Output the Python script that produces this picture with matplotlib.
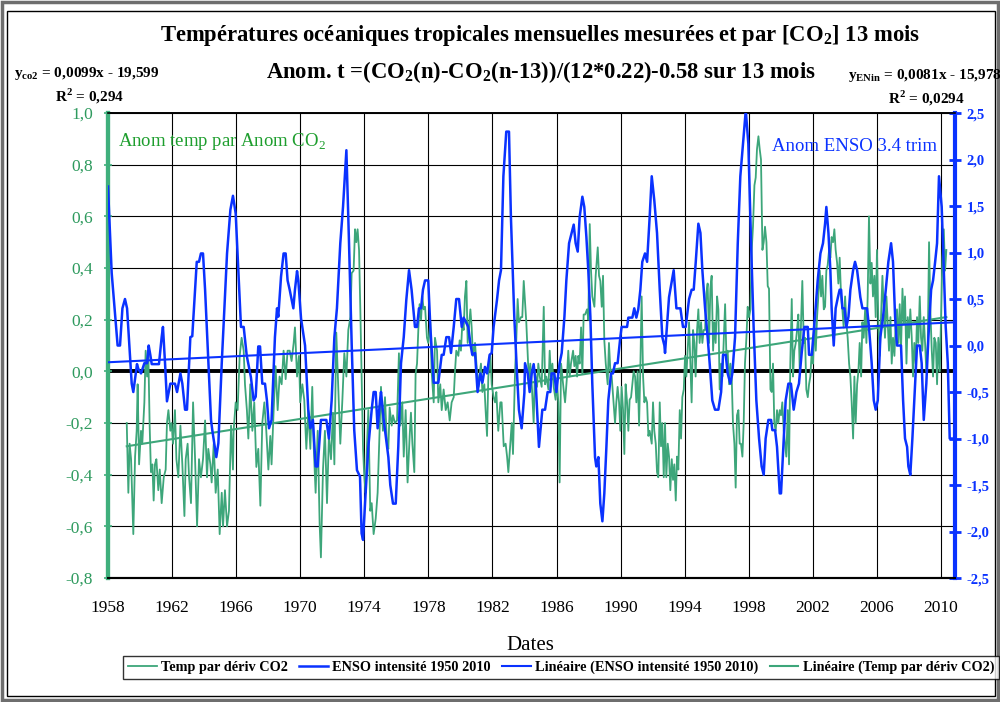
import numpy as np
import matplotlib
matplotlib.use("Agg")
from matplotlib import pyplot as plt
from matplotlib.patches import Rectangle

plt.rcParams['font.family'] = ['Liberation Serif', 'DejaVu Serif']
plt.rcParams['mathtext.fontset'] = 'custom'
plt.rcParams['mathtext.rm'] = 'Liberation Serif'
plt.rcParams['mathtext.bf'] = 'Liberation Serif:bold'

# ---- data ----
co2_years = [
    1959.17, 1959.27, 1959.35, 1959.44, 1959.58, 1959.69, 1959.79, 1959.85, 1959.94, 1960.06,
    1960.14, 1960.27, 1960.35, 1960.44, 1960.52, 1960.60, 1960.68, 1960.77, 1960.85, 1960.93,
    1961.02, 1961.14, 1961.23, 1961.35, 1961.48, 1961.60, 1961.68, 1961.77, 1961.89, 1961.97,
    1962.06, 1962.18, 1962.27, 1962.39, 1962.52, 1962.64, 1962.77, 1962.85, 1962.97, 1963.06,
    1963.18, 1963.31, 1963.43, 1963.56, 1963.68, 1963.80, 1963.93, 1964.06, 1964.18, 1964.26,
    1964.39, 1964.47, 1964.60, 1964.72, 1964.85, 1964.97, 1965.10, 1965.18, 1965.30, 1965.43,
    1965.55, 1965.68, 1965.80, 1965.84, 1965.97, 1966.09, 1966.22, 1966.34, 1966.47,
    1966.55, 1966.67, 1966.76, 1966.88, 1967.01, 1967.13, 1967.26, 1967.38, 1967.51, 1967.63,
    1967.76, 1967.88, 1968.01, 1968.13, 1968.21, 1968.34, 1968.46, 1968.59, 1968.71, 1968.84,
    1968.96, 1969.09, 1969.21, 1969.34, 1969.46, 1969.59, 1969.67, 1969.80, 1969.92, 1970.00,
    1970.13, 1970.25, 1970.38, 1970.50, 1970.63, 1970.75, 1970.84, 1970.96, 1971.09, 1971.21,
    1971.29, 1971.42, 1971.54, 1971.67, 1971.79, 1971.92, 1972.04, 1972.13, 1972.25, 1972.38,
    1972.50, 1972.63, 1972.75, 1972.88, 1973.00, 1973.13, 1973.21, 1973.33, 1973.42, 1973.50,
    1973.58, 1973.67, 1973.75, 1973.83, 1973.92, 1974.00, 1974.08, 1974.17, 1974.25, 1974.37,
    1974.46, 1974.58, 1974.71, 1974.83, 1974.96, 1975.04, 1975.16,
    1975.29, 1975.41, 1975.50, 1975.58, 1975.71, 1975.79, 1975.91, 1976.04, 1976.16, 1976.25,
    1976.37, 1976.46, 1976.58, 1976.70, 1976.83, 1976.91, 1977.00, 1977.12, 1977.20, 1977.29,
    1977.37, 1977.45, 1977.54, 1977.62, 1977.70, 1977.79, 1977.91, 1977.99, 1978.12, 1978.20,
    1978.33, 1978.41, 1978.54, 1978.62, 1978.74, 1978.83, 1978.95, 1979.08, 1979.20, 1979.33,
    1979.45, 1979.58, 1979.66, 1979.74, 1979.87, 1979.95, 1980.03, 1980.12, 1980.20, 1980.28,
    1980.37, 1980.45, 1980.53, 1980.62, 1980.70, 1980.78, 1980.91, 1981.03, 1981.12, 1981.20,
    1981.28, 1981.37, 1981.49, 1981.57, 1981.66, 1981.74, 1981.87, 1981.95, 1982.07, 1982.16,
    1982.24, 1982.36, 1982.49, 1982.57, 1982.70, 1982.82, 1982.91, 1982.99, 1983.11, 1983.20,
    1983.28, 1983.40, 1983.49, 1983.57, 1983.65, 1983.78, 1983.86, 1983.95,
    1984.11, 1984.20, 1984.28, 1984.36, 1984.45, 1984.57, 1984.65, 1984.78, 1984.86, 1984.95,
    1985.07, 1985.20, 1985.28, 1985.36, 1985.49, 1985.57, 1985.65, 1985.74, 1985.82, 1985.94,
    1986.03, 1986.11, 1986.19, 1986.28, 1986.36, 1986.44, 1986.53, 1986.65, 1986.73, 1986.82,
    1986.90, 1987.03, 1987.11, 1987.19, 1987.28, 1987.36, 1987.44, 1987.53, 1987.61, 1987.69,
    1987.78, 1987.90, 1987.98, 1988.07, 1988.15, 1988.23, 1988.36, 1988.44, 1988.57, 1988.65,
    1988.73, 1988.82, 1988.90, 1988.98, 1989.07, 1989.19, 1989.27, 1989.36, 1989.44, 1989.56,
    1989.65, 1989.73, 1989.81, 1989.90, 1989.98, 1990.06, 1990.15, 1990.23, 1990.31, 1990.40,
    1990.48, 1990.56, 1990.65, 1990.73, 1990.81, 1990.90, 1990.98, 1991.06, 1991.15, 1991.23,
    1991.31, 1991.40, 1991.48, 1991.56, 1991.65, 1991.73, 1991.81, 1991.94, 1992.02, 1992.10,
    1992.19, 1992.27, 1992.35, 1992.44, 1992.52, 1992.60, 1992.69,
    1992.77, 1992.85, 1992.94, 1993.02, 1993.10, 1993.19, 1993.27, 1993.35, 1993.44, 1993.52,
    1993.60, 1993.69, 1993.77, 1993.85, 1993.94, 1994.02, 1994.10, 1994.18, 1994.27, 1994.35,
    1994.43, 1994.52, 1994.60, 1994.68, 1994.77, 1994.85, 1994.93, 1995.02, 1995.10, 1995.18,
    1995.27, 1995.35, 1995.43, 1995.52, 1995.60, 1995.68, 1995.77, 1995.85, 1995.93, 1996.02,
    1996.10, 1996.18, 1996.27, 1996.35, 1996.43, 1996.52, 1996.60, 1996.68, 1996.77, 1996.85,
    1996.93, 1997.01, 1997.10, 1997.18, 1997.26, 1997.35, 1997.43, 1997.51, 1997.60, 1997.68,
    1997.76, 1997.85, 1997.93, 1998.01, 1998.10, 1998.18, 1998.26, 1998.35, 1998.43, 1998.51,
    1998.60, 1998.68, 1998.76, 1998.85, 1998.93, 1999.01, 1999.10, 1999.18, 1999.26, 1999.35,
    1999.43, 1999.51, 1999.59, 1999.68, 1999.76, 1999.84, 1999.93, 2000.01, 2000.09, 2000.18,
    2000.26, 2000.34, 2000.43, 2000.51, 2000.59, 2000.68, 2000.76, 2000.84, 2000.93, 2001.01,
    2001.09, 2001.18, 2001.26, 2001.34, 2001.43,
    2001.51, 2001.59, 2001.68, 2001.76, 2001.84, 2001.93, 2002.01, 2002.09, 2002.18, 2002.26,
    2002.34, 2002.43, 2002.51, 2002.59, 2002.68, 2002.76, 2002.84, 2002.92, 2003.01, 2003.09,
    2003.17, 2003.26, 2003.34, 2003.42, 2003.51, 2003.59, 2003.67, 2003.76, 2003.84, 2003.92,
    2004.01, 2004.09, 2004.17, 2004.26, 2004.34, 2004.42, 2004.51, 2004.59, 2004.67, 2004.76,
    2004.84, 2004.92, 2005.01, 2005.09, 2005.17, 2005.26, 2005.34, 2005.42, 2005.50, 2005.59,
    2005.67, 2005.75, 2005.84, 2005.92, 2006.00, 2006.09, 2006.17, 2006.25, 2006.34, 2006.42,
    2006.50, 2006.59, 2006.67, 2006.75, 2006.84, 2006.92, 2007.00, 2007.09, 2007.17, 2007.25,
    2007.34, 2007.42, 2007.50, 2007.59, 2007.67, 2007.75, 2007.84, 2007.92, 2008.00, 2008.08,
    2008.17, 2008.25, 2008.33, 2008.42, 2008.50, 2008.58, 2008.67, 2008.75, 2008.83, 2008.92,
    2009.00, 2009.08, 2009.17, 2009.25, 2009.33, 2009.42, 2009.50, 2009.58, 2009.67, 2009.75,
    2009.83, 2009.92, 2010.00, 2010.08, 2010.17, 2010.25, 2010.33,
]
co2_temp = [
    -0.20, -0.47, -0.28, -0.34, -0.63, -0.33, -0.23, -0.05, -0.36, -0.23,
    -0.28, -0.12, 0.08, -0.02, 0.06, -0.21, -0.39, -0.36, -0.50, -0.36,
    -0.34, -0.46, -0.38, -0.51, -0.41, -0.38, -0.20, -0.15, -0.23, -0.20,
    -0.28, -0.15, -0.34, -0.41, -0.21, -0.36, -0.56, -0.34, -0.28, -0.41,
    -0.51, -0.12, -0.33, -0.60, -0.34, -0.41, -0.34, -0.19, -0.41, -0.30,
    -0.36, -0.43, -0.28, -0.47, -0.38, -0.63, -0.47, -0.60, -0.46, -0.60,
    -0.54, -0.21, -0.38, -0.23, -0.12, -0.15, 0.06, 0.13, 0.08,
    -0.05, -0.15, -0.26, -0.05, -0.23, -0.12, -0.37, -0.30, -0.52, -0.20,
    -0.12, -0.23, -0.38, -0.25, -0.36, -0.15, 0.02, -0.15, -0.02, -0.05,
    0.08, -0.03, 0.08, 0.08, 0.04, 0.11, 0.17, -0.02, 0.06, -0.12,
    -0.05, -0.11, -0.30, -0.15, -0.30, -0.06, -0.29, -0.47, -0.23, -0.59,
    -0.72, -0.38, -0.23, -0.51, -0.25, -0.34, -0.16, -0.36, 0.15, -0.07,
    -0.28, -0.11, 0.07, -0.02, 0.16, 0.21, 0.38, 0.39, 0.55, 0.50,
    0.55, 0.47, 0.24, -0.02, -0.30, -0.41, -0.47, -0.28, -0.15, -0.54,
    -0.51, -0.63, -0.57, -0.47, -0.21, -0.06, -0.23,
    -0.10, -0.28, -0.30, -0.14, -0.21, -0.17, -0.20, -0.19, 0.07, -0.21,
    -0.12, -0.33, -0.15, -0.43, -0.25, -0.16, -0.28, -0.39, -0.01, 0.03,
    0.16, 0.26, 0.20, 0.29, 0.24, 0.25, 0.13, 0.11, 0.19, 0.00,
    -0.12, 0.13, 0.08, -0.12, -0.05, -0.15, -0.07, -0.15, -0.12, -0.19,
    -0.12, -0.10, 0.00, 0.08, 0.06, 0.12, 0.08, 0.19, 0.16, 0.29,
    0.35, 0.11, 0.17, 0.24, 0.17, 0.06, 0.11, 0.00, -0.06, -0.01,
    0.03, -0.08, -0.05, -0.15, -0.25, -0.02, 0.06, -0.05, -0.10, -0.12,
    -0.08, -0.23, -0.12, -0.12, -0.29, -0.28, -0.33, -0.39, -0.28, -0.20,
    -0.32, -0.02, 0.13, 0.28, 0.19, 0.21, 0.21, 0.35,
    0.19, 0.06, -0.05, 0.03, -0.05, -0.20, 0.00, -0.06, 0.03, -0.02,
    -0.06, 0.25, -0.05, -0.02, -0.07, 0.08, -0.02, 0.03, -0.06, -0.11,
    -0.05, -0.12, -0.43, 0.03, -0.02, -0.07, -0.12, -0.02, 0.08, -0.02,
    0.03, 0.08, 0.02, 0.06, -0.02, 0.06, 0.03, 0.17, -0.01, 0.22,
    0.22, 0.24, 0.20, 0.57, 0.39, 0.29, 0.25, 0.37, 0.48, 0.37,
    0.35, 0.25, 0.37, 0.12, 0.03, -0.05, 0.11, 0.00, -0.02, -0.12,
    -0.20, -0.12, -0.06, -0.12, -0.23, -0.06, -0.15, -0.32, -0.05, -0.12,
    -0.23, -0.11, -0.10, -0.05, 0.00, -0.02, -0.12, 0.00, -0.21, 0.02,
    0.29, -0.02, -0.12, -0.10, -0.12, -0.25, -0.23, -0.28, -0.12, -0.23,
    -0.28, -0.39, -0.41, -0.12, -0.29, -0.20, -0.41,
    -0.20, -0.41, -0.28, -0.33, -0.46, -0.34, -0.42, -0.36, -0.50, -0.33,
    -0.38, -0.15, -0.26, -0.10, -0.07, 0.06, -0.02, 0.08, 0.19, 0.03,
    -0.12, 0.16, 0.11, -0.02, 0.16, 0.24, 0.11, 0.19, 0.11, 0.16,
    0.16, 0.30, 0.34, 0.11, 0.32, 0.37, 0.08, 0.19, 0.11, 0.29,
    0.24, -0.07, 0.03, -0.02, 0.11, 0.26, 0.06, 0.08, -0.05, 0.03,
    -0.02, -0.20, -0.28, -0.45, -0.17, -0.15, -0.28, -0.28, -0.33, -0.20,
    0.03, 0.13, 0.25, 0.21, 0.24, 0.47, 0.56, 0.72, 0.75, 0.86,
    0.91, 0.86, 0.82, 0.47, 0.50, 0.56, 0.50, 0.33, 0.32, -0.07,
    -0.08, 0.03, -0.20, -0.23, -0.15, -0.20, -0.15, -0.17, -0.12, -0.23,
    -0.28, -0.33, -0.15, -0.36, 0.03, 0.28, -0.02, 0.08, 0.11, 0.16,
    0.22, 0.00, 0.19, 0.35, 0.11,
    0.13, -0.07, -0.10, -0.05, -0.02, 0.08, 0.03, 0.19, 0.08, 0.21,
    0.29, 0.39, 0.29, 0.37, 0.24, 0.25, 0.39, 0.41, 0.47, 0.44,
    0.52, 0.50, 0.55, 0.47, 0.42, 0.34, 0.44, 0.29, 0.24, 0.17,
    0.29, 0.19, 0.13, 0.03, -0.02, -0.12, -0.26, -0.02, -0.20, -0.05,
    0.00, 0.11, -0.02, 0.19, 0.13, 0.24, 0.11, 0.29, 0.60, 0.34,
    0.42, 0.29, 0.37, 0.21, 0.47, 0.17, 0.06, 0.21, 0.37, 0.24,
    0.13, 0.29, 0.19, 0.08, 0.21, 0.03, 0.13, 0.06, 0.19, 0.24,
    0.11, 0.26, 0.08, 0.32, 0.19, 0.29, 0.03, 0.21, 0.13, 0.24,
    0.13, -0.02, 0.11, 0.03, 0.21, 0.11, 0.29, 0.13, 0.08, 0.21,
    0.11, 0.00, 0.11, 0.50, 0.24, 0.08, -0.02, 0.13, 0.11, -0.05,
    0.13, 0.00, 0.21, 0.44, 0.55, 0.39, 0.47,
]

enso_years = [
    1958.00, 1958.23, 1958.60, 1958.75, 1958.90, 1959.06, 1959.19, 1959.48, 1959.58, 1959.81,
    1959.89, 1960.06, 1960.27, 1960.44, 1960.54, 1960.64, 1960.73, 1961.18, 1961.35, 1961.43,
    1961.56, 1961.68, 1961.89, 1962.18, 1962.31, 1962.52, 1962.64, 1962.81, 1962.93, 1963.14,
    1963.26, 1963.54, 1963.68, 1963.80, 1963.93, 1964.06, 1964.43, 1964.51, 1964.76, 1964.89,
    1965.10, 1965.43, 1965.64, 1965.80, 1965.97, 1966.30, 1966.47, 1966.66, 1966.76, 1966.92,
    1967.09, 1967.22, 1967.38, 1967.49, 1967.63, 1967.80, 1967.92, 1968.05, 1968.21, 1968.42,
    1968.55, 1968.63, 1968.80, 1968.96, 1969.09, 1969.21, 1969.34, 1969.57, 1969.67, 1969.80,
    1969.88, 1970.05, 1970.30, 1970.50, 1970.63, 1970.79, 1970.96, 1971.09, 1971.29, 1971.63,
    1971.79, 1971.96, 1972.13, 1972.29, 1972.50, 1972.67, 1972.88, 1973.04, 1973.21, 1973.37,
    1973.54, 1973.73, 1973.83, 1973.92, 1974.08, 1974.25, 1974.46, 1974.58, 1974.71, 1974.83,
    1974.98, 1975.04, 1975.21, 1975.50, 1975.62, 1975.79, 1975.96, 1976.12, 1976.29, 1976.46,
    1976.62, 1976.79, 1976.95, 1977.16, 1977.29, 1977.41, 1977.54, 1977.66, 1977.79, 1977.99,
    1978.12, 1978.33, 1978.62, 1978.83, 1978.95, 1979.04, 1979.12, 1979.29, 1979.41, 1979.58,
    1979.74, 1979.91, 1980.08, 1980.20, 1980.49, 1980.62, 1980.74, 1980.91, 1981.07, 1981.24,
    1981.37, 1981.53, 1981.66, 1981.82, 1981.95, 1982.07, 1982.28, 1982.41, 1982.53, 1982.68,
    1982.86, 1983.03, 1983.15, 1983.36, 1983.53, 1983.65, 1983.82, 1983.99, 1984.03, 1984.20,
    1984.32, 1984.45, 1984.57, 1984.70, 1984.90, 1985.11, 1985.28, 1985.44, 1985.61, 1985.69,
    1985.86, 1985.99, 1986.11, 1986.19, 1986.32, 1986.49, 1986.61, 1986.78, 1986.94, 1987.07,
    1987.19, 1987.32, 1987.44, 1987.61, 1987.73, 1987.86, 1987.98, 1988.11, 1988.23, 1988.40,
    1988.48, 1988.61, 1988.73, 1988.86, 1988.98, 1989.11, 1989.23, 1989.40, 1989.52, 1989.65,
    1989.81, 1989.98, 1990.06, 1990.40, 1990.48, 1990.73, 1990.85, 1990.98, 1991.10, 1991.23,
    1991.35, 1991.52, 1991.65, 1991.81, 1991.94, 1992.10, 1992.27, 1992.44, 1992.60, 1992.73,
    1992.77, 1993.02, 1993.31, 1993.48, 1993.73, 1993.89, 1994.06, 1994.27, 1994.43, 1994.56,
    1994.68, 1994.85, 1994.98, 1995.10, 1995.27, 1995.43, 1995.56, 1995.72, 1995.89, 1996.10,
    1996.27, 1996.39, 1996.56, 1996.68, 1996.85, 1996.97, 1997.14, 1997.31, 1997.47, 1997.64,
    1997.81, 1997.97, 1998.14, 1998.30, 1998.47, 1998.64, 1998.80, 1998.93, 1999.05, 1999.22,
    1999.39, 1999.47, 1999.64, 1999.76, 1999.93, 2000.01, 2000.18, 2000.30, 2000.47, 2000.63,
    2000.80, 2000.97, 2001.13, 2001.30, 2001.47, 2001.68, 2001.76, 2001.93, 2002.13, 2002.30,
    2002.47, 2002.63, 2002.76, 2002.84, 2002.97, 2003.09, 2003.17, 2003.30, 2003.42, 2003.55,
    2003.67, 2003.76, 2003.84, 2003.97, 2004.09, 2004.22, 2004.34, 2004.51, 2004.63, 2004.76,
    2004.96, 2005.09, 2005.38, 2005.50, 2005.67, 2005.80, 2005.92, 2006.05, 2006.21, 2006.38,
    2006.55, 2006.71, 2006.88, 2007.00, 2007.13, 2007.25, 2007.50, 2007.63, 2007.75, 2007.88,
    2007.96, 2008.08, 2008.21, 2008.33, 2008.50, 2008.67, 2008.79, 2008.92, 2009.08, 2009.21,
    2009.38, 2009.50, 2009.63, 2009.75, 2009.87, 2010.04, 2010.17, 2010.29, 2010.42, 2010.54,
    2010.83,
]
enso_anom = [
    1.71, 0.78, 0.00, 0.00, 0.40, 0.50, 0.40, -0.41, -0.50, -0.20,
    -0.25, -0.30, -0.19, -0.19, 0.00, -0.10, -0.20, -0.20, 0.09, 0.20,
    -0.19, -0.60, -0.41, -0.41, -0.50, -0.30, -0.41, -0.69, -0.69, 0.09,
    0.10, 0.90, 0.90, 0.99, 0.99, 0.60, -0.80, -0.91, -1.20, -1.05,
    -0.19, 0.99, 1.46, 1.61, 1.42, 0.20, 0.20, -0.11, -0.20, -0.34,
    -0.59, -0.55, -0.01, -0.01, -0.41, -0.41, -0.59, -0.89, -0.80, 0.09,
    0.40, 0.31, 0.74, 0.99, 0.99, 0.70, 0.60, 0.40, 0.60, 0.80,
    0.70, 0.29, 0.00, -0.69, -0.89, -0.80, -1.30, -1.30, -0.80, -0.80,
    -1.00, -0.59, 0.09, 0.40, 1.10, 1.49, 2.10, 1.13, 0.02, -0.91,
    -1.34, -1.41, -2.02, -2.09, -1.59, -1.09, -0.69, -0.50, -0.50, -0.89,
    -0.59, -0.50, -0.80, -1.20, -1.50, -1.70, -1.70, -1.09, -0.19, 0.09,
    0.49, 0.81, 0.60, 0.20, 0.20, 0.40, 0.40, 0.60, 0.70, 0.70,
    0.20, -0.40, -0.40, -0.10, -0.10, 0.00, 0.09, 0.09, -0.08, 0.20,
    0.50, 0.50, 0.20, 0.30, 0.20, 0.02, -0.10, -0.08, -0.50, -0.30,
    -0.40, -0.23, -0.30, -0.10, -0.08, 0.20, 0.49, 0.70, 0.81, 1.82,
    2.30, 2.30, 1.38, 0.31, -0.30, -0.69, -0.89, -0.51, -0.19, -0.30,
    -0.50, -0.30, -0.20, -0.41, -1.09, -0.69, -0.69, -0.50, -0.50, -0.30,
    -0.30, -0.50, -0.30, -0.19, -0.08, 0.31, 0.70, 1.10, 1.21, 1.30,
    1.10, 1.01, 1.38, 1.60, 1.49, 1.17, 0.81, 0.31, -0.41, -1.20,
    -1.30, -1.20, -1.70, -1.89, -1.59, -1.09, -0.59, -0.30, -0.30, -0.19,
    -0.19, 0.09, 0.20, 0.20, 0.30, 0.30, 0.40, 0.30, 0.39, 0.60,
    0.90, 0.99, 0.90, 1.38, 1.82, 1.56, 1.21, 0.60, 0.09, 0.00,
    -0.08, 0.52, 0.81, 0.40, 0.40, 0.20, 0.20, 0.50, 0.60, 0.60,
    0.88, 1.31, 1.21, 0.81, 0.40, 0.09, -0.20, -0.59, -0.69, -0.69,
    -0.50, -0.10, -0.10, -0.30, -0.41, -0.30, 0.09, 1.10, 1.82, 2.17,
    2.53, 2.17, 1.10, 0.20, -0.59, -1.00, -1.30, -1.39, -1.00, -0.80,
    -0.80, -0.91, -0.91, -1.09, -1.59, -1.59, -1.00, -0.59, -0.41, -0.41,
    -0.69, -0.50, -0.41, -0.08, 0.20, 0.20, -0.10, -0.10, 0.31, 0.70,
    0.99, 1.10, 1.31, 1.49, 1.21, 0.81, 0.40, 0.00, 0.40, 0.51,
    0.60, 0.60, 0.40, 0.40, 0.20, 0.31, 0.60, 0.81, 0.90, 0.81,
    0.52, 0.40, 0.40, 0.20, -0.19, -0.59, -0.69, -0.59, 0.09, 0.31,
    0.60, 0.90, 1.10, 0.90, 0.31, 0.00, 0.00, -0.59, -1.00, -1.09,
    -1.30, -1.39, -1.00, -0.59, 0.00, 0.00, -0.19, -0.80, -0.41, 0.09,
    0.60, 0.70, 0.90, 1.10, 1.82, 1.49, 0.81, 0.20, -0.19, -1.00,
    -1.00,
]

# linear trends (end points)
co2_trend_years = [1959.17, 2010.33]
co2_trend_vals = [-0.29, 0.21]
enso_trend_years = [1958.0, 2010.87]
enso_trend_vals = [-0.18, 0.25]

year_ticks = list(range(1958, 2011, 4))
left_ticks = [-0.8, -0.6, -0.4, -0.2, 0.0, 0.2, 0.4, 0.6, 0.8, 1.0]
right_ticks = [-2.5, -2.0, -1.5, -1.0, -0.5, 0.0, 0.5, 1.0, 1.5, 2.0, 2.5]

GREEN = '#3DA67A'
GREEN_AX = '#3FAF7C'
BLUE = '#0A32FF'


def comma(v):
    return ('%.1f' % v).replace('.', ',')


fig = plt.figure(figsize=(10, 7.02), dpi=100)
fig.subplots_adjust(left=0.108, right=0.955, bottom=0.1766, top=0.839)
ax = fig.add_subplot(111)
ax2 = ax.twinx()

# grid + zero line
for t in year_ticks:
    ax.axvline(t, color='black', lw=0.8, zorder=0)
for t in left_ticks:
    ax.axhline(t, color='black', lw=0.8, zorder=0)
ax.axhline(0, color='black', lw=2.8, zorder=1)

l1, = ax.plot(co2_years, co2_temp, color=GREEN, lw=1.3, zorder=2)
l4, = ax.plot(co2_trend_years, co2_trend_vals, color=GREEN, lw=1.5, zorder=3)
l2, = ax2.plot(enso_years, enso_anom, color=BLUE, lw=1.8, zorder=3)
l3, = ax2.plot(enso_trend_years, enso_trend_vals, color=BLUE, lw=1.5, zorder=3)

ax.set_xlim(1958, 2010.87)
ax.set_ylim(-0.8, 1.0)
ax2.set_ylim(-2.5, 2.5)

ax.set_xticks(year_ticks)
ax.set_xticklabels([str(t) for t in year_ticks], fontsize=12.5)
ax.tick_params(axis='x', length=0, pad=16)

ax.set_yticks(left_ticks)
ax.set_yticklabels([comma(t) for t in left_ticks], fontsize=12.5, color='#2E9A5E')
ax.tick_params(axis='y', direction='inout', length=6, width=1.2, color=GREEN_AX, pad=8)

ax2.set_yticks(right_ticks)
ax2.set_yticklabels([comma(t) for t in right_ticks], fontsize=10.5, color=BLUE, fontweight='bold')
ax2.tick_params(axis='y', direction='inout', length=9, width=2, color=BLUE, pad=4)

for a in (ax, ax2):
    a.spines['top'].set_color('black')
    a.spines['top'].set_linewidth(1.2)
    a.spines['bottom'].set_color('black')
    a.spines['bottom'].set_linewidth(1.5)
ax2.spines['left'].set_color(GREEN_AX)
ax2.spines['left'].set_linewidth(3)
ax.spines['left'].set_color(GREEN_AX)
ax.spines['left'].set_linewidth(3)
ax2.spines['right'].set_color(BLUE)
ax2.spines['right'].set_linewidth(3)

ax.text(0.012, 0.938, 'Anom temp par Anom CO$_2$', transform=ax.transAxes,
        color='#1E9E2E', fontsize=13.5, va='center')
ax.text(0.784, 0.929, 'Anom ENSO 3.4 trim', transform=ax.transAxes,
        color=BLUE, fontsize=13.5, va='center', zorder=10)

# titles and regression equations
fig.text(0.54, 0.950, 'Températures océaniques tropicales mensuelles mesurées et par [CO$_\\mathbf{2}$] 13 mois',
         ha='center', va='center', fontsize=16.3, fontweight='bold')
fig.text(0.541, 0.897, 'Anom. t =(CO$_\\mathbf{2}$(n)-CO$_\\mathbf{2}$(n-13))/(12*0.22)-0.58 sur 13 mois',
         ha='center', va='center', fontsize=16.3, fontweight='bold')
fig.text(0.014, 0.896, 'y$_\\mathbf{co2}$ = 0,0099x - 19,599', ha='left', va='center',
         fontsize=11, fontweight='bold')
fig.text(0.055, 0.863, 'R$^\\mathbf{2}$ = 0,294', ha='left', va='center',
         fontsize=11, fontweight='bold')
fig.text(0.848, 0.893, 'y$_\\mathbf{ENin}$ = 0,0081x - 15,978', ha='left', va='center',
         fontsize=11, fontweight='bold')
fig.text(0.888, 0.860, 'R$^\\mathbf{2}$ = 0,0294', ha='left', va='center',
         fontsize=11, fontweight='bold')

fig.text(0.53, 0.081, 'Dates', ha='center', va='center', fontsize=15)

leg = fig.legend([l1, l2, l3, l4],
                 ['Temp par dériv CO2', 'ENSO intensité 1950 2010',
                  'Linéaire (ENSO intensité 1950 2010)', 'Linéaire (Temp par dériv CO2)'],
                 loc='upper center', bbox_to_anchor=(0.561, 0.076), ncol=4,
                 prop={'weight': 'bold', 'size': 10.3}, frameon=True, fancybox=False,
                 edgecolor='black', handlelength=2.0, columnspacing=0.8,
                 handletextpad=0.3, borderpad=0.35)
leg.get_frame().set_linewidth(1.0)

# outer chart frame
fig.add_artist(Rectangle((0.002, 0.003), 0.996, 0.994, transform=fig.transFigure,
                         fill=False, ec='#6E6E6E', lw=2.5))
fig.add_artist(Rectangle((0.007, 0.008), 0.988, 0.977, transform=fig.transFigure,
                         fill=False, ec='black', lw=1.0))

plt.savefig('out.png', dpi=100)
